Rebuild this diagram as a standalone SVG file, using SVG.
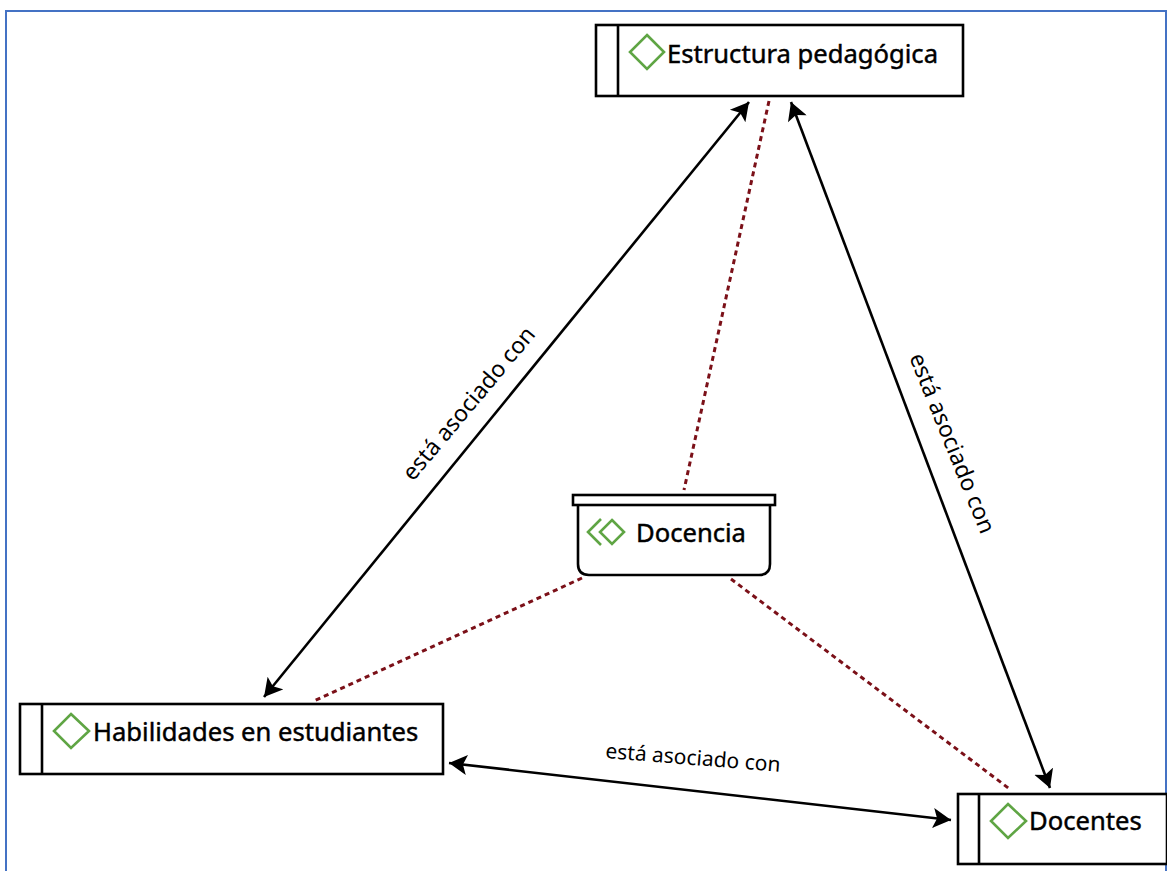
<svg xmlns="http://www.w3.org/2000/svg" width="1167" height="871" viewBox="0 0 1167 871">
<style>
.box{fill:#fff;stroke:#000;stroke-width:2.6}
.dia{fill:none;stroke:#5fa544;stroke-width:2.6}
.t{font-family:"Noto Sans","Open Sans",sans-serif;font-size:25.6px;fill:#000;stroke:#000;stroke-width:.45}
.l{font-family:"Noto Sans","Open Sans",sans-serif;font-size:23px;fill:#000}
.h{font-size:21px}
.a{stroke:#000;stroke-width:2.6;fill:none;marker-start:url(#s);marker-end:url(#e)}
.d{stroke:#7b1018;stroke-width:3;fill:none;stroke-dasharray:5 4}
</style>
<defs>
<marker id="e" markerUnits="userSpaceOnUse" markerWidth="22" markerHeight="22" refX="18" refY="10" orient="auto"><path d="M0 0L18 10L0 20L4 10Z" fill="#000"/></marker>
<marker id="s" markerUnits="userSpaceOnUse" markerWidth="22" markerHeight="22" refX="0" refY="10" orient="auto"><path d="M18 0L0 10L18 20L14 10Z" fill="#000"/></marker>
</defs>
<path d="M6 871V11H1166V871" fill="none" stroke="#4472c4" stroke-width="2"/>
<g id="connectors">
<path class="a" d="M749 102L264 697"/>
<path class="a" d="M791 102L1050 788"/>
<path class="a" d="M449 763L951 820"/>
<path class="d" d="M769 101L684 490"/>
<path class="d" d="M582 578L314 701"/>
<path class="d" d="M731 579L1011 790"/>
</g>
<g id="n-estructura">
<rect class="box" x="596" y="25" width="367" height="71"/>
<path class="box" d="M618 25V96"/>
<path class="dia" d="M647 35L664 52L647 69L630 52Z"/>
<text class="t" x="667" y="63">Estructura pedagógica</text>
</g>
<g id="n-docencia">
<path class="box" d="M578 504V564Q578 575 589 575H759Q770 575 770 564V504"/>
<rect class="box" x="573" y="495" width="202" height="10"/>
<path class="dia" d="M601 519L588 532L601 545"/>
<path class="dia" d="M612 520L624 532L612 544L600 532Z"/>
<text class="t" x="636" y="542">Docencia</text>
</g>
<g id="n-habilidades">
<rect class="box" x="20" y="704" width="423" height="70"/>
<path class="box" d="M42 704V774"/>
<path class="dia" d="M71 714L89 731L71 748L54 731Z"/>
<text class="t" x="93" y="741">Habilidades en estudiantes</text>
</g>
<g id="n-docentes">
<rect class="box" x="958" y="794" width="209" height="70"/>
<path class="box" d="M979 794V864"/>
<path class="dia" d="M1008 804L1026 821L1008 838L991 821Z"/>
<text class="t" x="1029" y="830">Docentes</text>
</g>
<g id="labels">
<text class="l" transform="translate(413 482) rotate(-50)">está asociado con</text>
<text class="l" transform="translate(909 357) rotate(68)">está asociado con</text>
<text class="l h" transform="translate(605 758) rotate(4.5)">está asociado con</text>
</g>
</svg>
